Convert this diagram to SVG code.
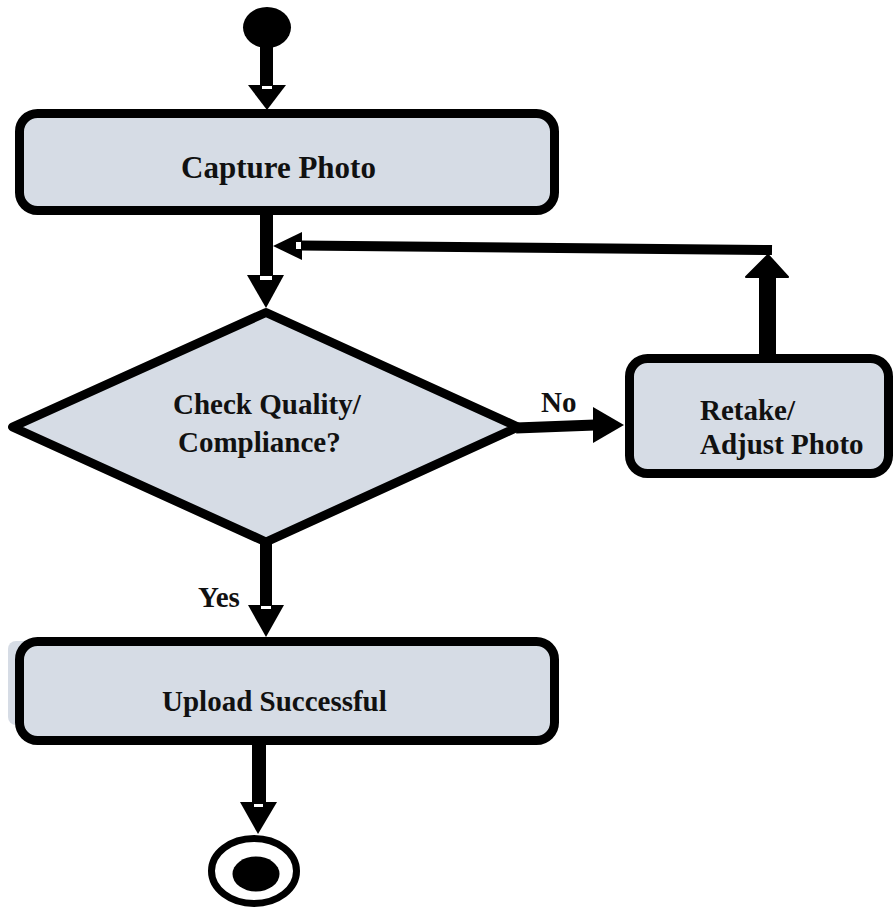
<svg xmlns="http://www.w3.org/2000/svg" width="894" height="907" viewBox="0 0 894 907">
<style>
.box{fill:#d6dce5;stroke:#000;stroke-width:9}
.lbl{font-family:"Liberation Serif","Times New Roman",serif;font-weight:bold;font-size:29px;fill:#111}
.shaft{stroke:#000;fill:none;stroke-linecap:butt}
.head{fill:#000}
.notch{fill:#fff}
</style>
<rect width="894" height="907" fill="#fff"/>
<g id="start">
<ellipse cx="267" cy="27.5" rx="24" ry="20.5" fill="#000"/>
</g>
<g id="capture-photo">
<rect class="box" x="19.5" y="113.5" width="535" height="97" rx="18"/>
<text class="lbl" x="181" y="178" style="font-size:31px">Capture Photo</text>
</g>
<g id="check-quality">
<polygon class="box" points="266,312.5 12.5,427 266,542 518,427" stroke-linejoin="round"/>
<text class="lbl" x="173" y="414">Check Quality/</text>
<text class="lbl" x="178" y="452">Compliance?</text>
</g>
<g id="retake">
<rect class="box" x="629.5" y="358.5" width="259" height="115" rx="18"/>
<text class="lbl" x="700" y="420">Retake/</text>
<text class="lbl" x="700" y="454">Adjust Photo</text>
</g>
<g id="upload-successful">
<rect x="8" y="641" width="30" height="84" rx="8" fill="#d6dce5"/>
<rect class="box" x="19.5" y="641.5" width="535" height="99" rx="18"/>
<text class="lbl" x="162" y="711">Upload Successful</text>
</g>
<g id="end">
<ellipse cx="254" cy="871" rx="42.5" ry="32.5" fill="#fff" stroke="#000" stroke-width="7"/>
<ellipse cx="256" cy="874" rx="23.5" ry="17.5" fill="#000"/>
</g>
<g id="connectors">
<line class="shaft" x1="266.5" y1="46" x2="266.5" y2="86" stroke-width="13"/>
<polygon class="head" points="248,85 286,85 267,110"/>
<rect class="notch" x="262" y="86" width="10" height="3"/>
<line class="shaft" x1="266.5" y1="214" x2="266.5" y2="276" stroke-width="13"/>
<polygon class="head" points="247,275 284,275 266,308"/>
<rect class="notch" x="260" y="276" width="12" height="4"/>
<line class="shaft" x1="516" y1="428" x2="595" y2="425" stroke-width="11"/>
<polygon class="head" points="593,407 593,443 624,425"/>
<text class="lbl" x="541" y="412">No</text>
<line class="shaft" x1="767.5" y1="356" x2="767.5" y2="275" stroke-width="17"/>
<polygon class="head" points="768,255 788,277 746,277" stroke="#000" stroke-width="2" stroke-linejoin="round"/>
<line class="shaft" x1="772" y1="250" x2="300" y2="245.5" stroke-width="10"/>
<polygon class="head" points="273,246 302,232 302,260"/>
<rect class="notch" x="296" y="242" width="5" height="7"/>
<line class="shaft" x1="266" y1="540" x2="266" y2="606" stroke-width="12"/>
<polygon class="head" points="248,605 284,605 266,637"/>
<rect class="notch" x="261" y="606" width="10" height="3"/>
<text class="lbl" x="198" y="607">Yes</text>
<line class="shaft" x1="259" y1="744" x2="259" y2="803" stroke-width="14"/>
<polygon class="head" points="240,802 277,802 258,834"/>
<rect class="notch" x="254" y="804" width="9" height="3"/>
</g>
</svg>
